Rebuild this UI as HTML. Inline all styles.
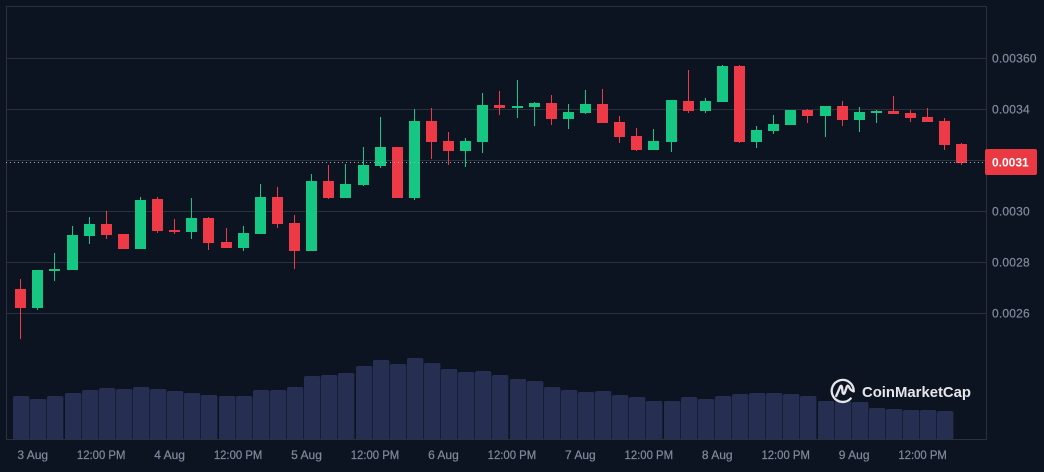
<!DOCTYPE html>
<html lang="en">
<head>
<meta charset="utf-8">
<title>Price chart</title>
<style>
html,body{margin:0;padding:0;background:#0d1421;}
body{width:1044px;height:472px;overflow:hidden;}
svg{display:block;}
text{font-family:"Liberation Sans",sans-serif;}
</style>
</head>
<body>
<svg id="chart" width="1044" height="472" viewBox="0 0 1044 472">
  <rect x="0" y="0" width="1044" height="472" fill="#0d1421"/>
  <g id="grid"></g>
  <rect x="6.5" y="6.5" width="980" height="433" fill="none" stroke="#2a303c" stroke-width="1"/>
  <g id="volumes"></g>
  <g id="candles"></g>
  <line id="price-line" x1="6" x2="985" stroke="#a7aebd" stroke-width="1" stroke-dasharray="1 3"/>
  <g id="y-labels"></g>
  <g id="x-labels"></g>
  <rect x="985" y="149" width="52" height="26" rx="2" fill="#ea3943"/>
  <text x="992" y="166.5" font-size="12" font-weight="700" fill="#ffffff">0.0031</text>
  <g transform="translate(842.7 390.5)" fill="none" stroke="#e4e6eb" stroke-width="2.3" stroke-linecap="round" stroke-linejoin="round">
    <path d="M8 8 A11 11 0 1 1 11 0.8"/>
    <path d="M-6.5 5.5 L-2.4 -4 Q-1.4 -5.5 -0.8 -3.8 L0 2.5 Q1 4.5 2 2.5 L4.2 -4 Q5.2 -5.8 6.4 -3.5 Q7.5 -0.3 10.8 0.8"/>
  </g>
  <text x="862" y="397" font-size="15" font-weight="700" fill="#e4e6eb" textLength="109" lengthAdjust="spacingAndGlyphs">CoinMarketCap</text>
</svg>
<script>
// Prices are in units of 0.000001
const opens  = [2696,2622,2767,2771,2904,2951,2912,2853,3049,2927,2920,2974,2880,2857,2912,3057,2955,2845,3120,3053,3104,3178,3253,3053,3355,3276,3237,3273,3418,3406,3410,3426,3363,3386,3422,3351,3296,3241,3273,3433,3394,3429,3571,3273,3316,3339,3398,3375,3414,3359,3386,3394,3386,3371,3355,3265];
const highs  = [2735,2771,2837,2943,2978,3002,2912,3057,3057,2971,3053,2978,2935,2943,3108,3096,2986,3147,3182,3186,3253,3371,3253,3402,3406,3312,3288,3465,3473,3516,3429,3457,3422,3476,3480,3375,3327,3324,3437,3555,3445,3574,3574,3335,3378,3398,3402,3414,3433,3410,3398,3453,3398,3406,3367,3269];
const lows   = [2500,2614,2727,2771,2873,2892,2853,2853,2916,2912,2892,2849,2857,2845,2912,2935,2775,2845,3049,3053,3100,3171,3053,3045,3206,3182,3175,3229,3378,3367,3335,3339,3324,3382,3347,3269,3237,3241,3233,3386,3386,3429,3269,3249,3304,3339,3347,3292,3335,3312,3347,3382,3351,3351,3241,3182];
const closes = [2622,2771,2775,2908,2951,2908,2853,3045,2924,2920,2974,2876,2857,2916,3057,2951,2845,3120,3053,3108,3182,3253,3053,3355,3273,3237,3276,3418,3406,3414,3426,3363,3390,3422,3347,3292,3241,3276,3437,3394,3433,3571,3273,3320,3343,3398,3375,3414,3359,3390,3394,3382,3367,3351,3261,3190];
// Volume in millions
const volumes = [86,80,86,92,98,102,100,104,100,96,92,88,86,86,98,98,104,126,128,132,146,158,150,162,152,140,134,136,128,120,116,104,98,94,96,88,84,76,76,84,80,86,90,92,92,90,86,76,76,74,62,60,58,58,56];
const yTickValues = [3600,3400,3200,3000,2800,2600];
const yTickLabels = ['0.00360','0.0034','','0.0030','0.0028','0.0026'];
const xTickLabels = ['3 Aug','12:00 PM','4 Aug','12:00 PM','5 Aug','12:00 PM','6 Aug','12:00 PM','7 Aug','12:00 PM','8 Aug','12:00 PM','9 Aug','12:00 PM'];
const xTickSlots  = [0.7,4.7,8.7,12.7,16.7,20.7,24.7,28.7,32.7,36.7,40.7,44.7,48.7,52.7];
const currentPrice = 3192;

const NS = 'http://www.w3.org/2000/svg';
function yPrice(p){ return 58.5 + (3600 - p) * 51 / 200; }
function xSlot(i){ return 20.75 + 17.113 * i; }
function yVolume(v){ return 439 - v * 0.5; }
function make(tag, attrs, parent){
  const el = document.createElementNS(NS, tag);
  for (const k in attrs) el.setAttribute(k, attrs[k]);
  parent.appendChild(el);
  return el;
}

const grid = document.getElementById('grid');
const yLabels = document.getElementById('y-labels');
yTickValues.forEach(function(v, i){
  const y = Math.floor(yPrice(v)) + 0.5;
  const line = make('line', {x1: 6, x2: 986, y1: y, y2: y, stroke: '#2a303c', 'stroke-width': 1}, grid);
  
  
  if (yTickLabels[i]) {
    const t = make('text', {x: 992, y: y + 4, 'font-size': 12, 'letter-spacing': 0.2, fill: '#808a9d', stroke: '#808a9d', 'stroke-width': 0.2}, yLabels);
    t.textContent = yTickLabels[i];
    
    
  }
});

const xLabels = document.getElementById('x-labels');
xTickLabels.forEach(function(label, i){
  const attrs = {x: xSlot(xTickSlots[i]), y: 459, 'font-size': 12, 'text-anchor': 'middle', fill: '#808a9d', stroke: '#808a9d', 'stroke-width': 0.2};
  if (label.length > 6) {
    attrs.textLength = 48.5;
    attrs.lengthAdjust = 'spacingAndGlyphs';
  }
  const t = make('text', attrs, xLabels);
  t.textContent = label;
  
  
});

const volG = document.getElementById('volumes');
volumes.forEach(function(v, i){
  const left = Math.floor(xSlot(i)) - 7;
  const top = Math.round(yVolume(v));
  const r = 2, w = 16.4;
  const bar = make('path', {
    d: 'M' + left + ' 439V' + (top + r) + 'Q' + left + ' ' + top + ' ' + (left + r) + ' ' + top +
       'H' + (left + w - r) + 'Q' + (left + w) + ' ' + top + ' ' + (left + w) + ' ' + (top + r) + 'V439Z',
    fill: '#262f52'
  }, volG);
  
  
});

const candleG = document.getElementById('candles');
opens.forEach(function(o, i){
  const c = closes[i];
  const color = c >= o ? '#16c784' : '#ee3a46';
  const px = Math.floor(xSlot(i));
  const hi = Math.round(yPrice(highs[i]));
  const lo = Math.round(yPrice(lows[i]));
  const top = Math.round(yPrice(Math.max(o, c)));
  const bot = Math.round(yPrice(Math.min(o, c)));
  const wick = make('rect', {x: px, y: hi, width: 1, height: Math.max(lo - hi, 1), fill: color}, candleG);
  
  
  const body = make('rect', {x: px - 5, y: top, width: 11, height: Math.max(bot - top, 1), fill: color}, candleG);
  
  
});

const priceLine = document.getElementById('price-line');
const py = Math.floor(yPrice(currentPrice)) + 0.5;
priceLine.setAttribute('y1', py);
priceLine.setAttribute('y2', py);
</script>
</body>
</html>
